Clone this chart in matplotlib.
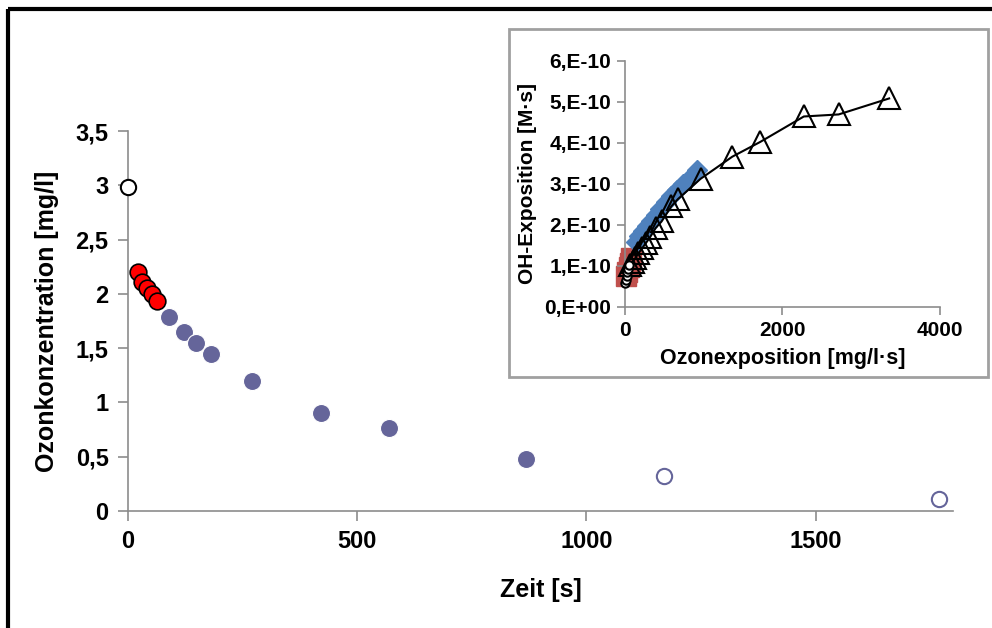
import matplotlib.pyplot as plt
from matplotlib.lines import Line2D
from matplotlib.patches import Rectangle
from matplotlib.ticker import FuncFormatter

plt.rcParams['font.family'] = ['Liberation Sans', 'DejaVu Sans']
plt.rcParams['font.weight'] = 'bold'

# Hauptdiagramm: Ozonzehrung
t_start = [0]
c_start = [2.98]
t_red = [21, 31, 41, 52, 63]
c_red = [2.20, 2.11, 2.05, 2.00, 1.93]
t_blue = [89, 122, 149, 182, 270, 421, 570, 869]
c_blue = [1.79, 1.65, 1.55, 1.45, 1.20, 0.90, 0.76, 0.48]
t_open = [1170, 1769]
c_open = [0.32, 0.11]

# Inset: OH-Exposition vs. Ozonexposition
oz_circ = [2, 10, 20, 30, 42, 55]
oh_circ = [0.57, 0.66, 0.75, 0.84, 0.93, 1.02]
oz_sq = [15, 30, 45, 60, 75]
oh_sq = [0.74, 0.85, 0.96, 1.07, 1.18]
oz_dia = [135, 180, 230, 280, 330, 390, 450, 520, 590, 660, 740, 820, 910]
oh_dia = [1.59, 1.72, 1.85, 1.98, 2.10, 2.24, 2.38, 2.55, 2.70, 2.85, 3.00, 3.15, 3.33]
oz_tri = [70, 100, 130, 170, 220, 265, 320, 390, 465, 590, 670, 960, 1363, 1718, 2271, 2713, 3354]
oh_tri = [1.02, 1.10, 1.18, 1.30, 1.43, 1.55, 1.70, 1.92, 2.08, 2.45, 2.62, 3.12, 3.66, 4.02, 4.64, 4.69, 5.08]

fig = plt.figure(figsize=(9.92, 6.28), dpi=100)

ax = fig.add_axes([0.129, 0.1863, 0.832, 0.6051])
blue = '#65659a'
ax.plot(t_start, c_start, 'o', ms=11, mfc='white', mec='black', mew=1.5, clip_on=False, zorder=3)
ax.plot(t_blue, c_blue, 'o', ms=13, mfc=blue, mec='white', mew=0.8, zorder=3)
ax.plot(t_red, c_red, 'o', ms=12, mfc='#ff0000', mec='black', mew=1.2, zorder=4)
ax.plot(t_open, c_open, 'o', ms=11, mfc='white', mec=blue, mew=1.5, zorder=3)

ax.set_xlim(0, 1800)
ax.set_ylim(0, 3.5)
ax.set_xticks([0, 500, 1000, 1500])
ax.set_yticks([0, 0.5, 1, 1.5, 2, 2.5, 3, 3.5])
ax.yaxis.set_major_formatter(FuncFormatter(lambda v, p: ('%g' % v).replace('.', ',')))
for s in ['top', 'right']:
    ax.spines[s].set_visible(False)
for s in ['left', 'bottom']:
    ax.spines[s].set_color('#8c8c8c')
    ax.spines[s].set_linewidth(1.2)
ax.tick_params(axis='both', direction='out', length=7, width=1.2, color='#8c8c8c',
               labelsize=17, pad=7)
ax.set_xlabel('Zeit [s]', fontsize=18, fontweight='bold', labelpad=18)
ax.set_ylabel('Ozonkonzentration [mg/l]', fontsize=18, fontweight='bold', labelpad=12)

# weisser Kasten fuer das Inset
box = Rectangle((0.513, 0.3997), 0.483, 0.554, transform=fig.transFigure,
                facecolor='white', edgecolor='#a0a0a0', linewidth=2, zorder=1)
fig.patches.append(box)

ins = fig.add_axes([0.630, 0.5116, 0.3176, 0.3917], zorder=2)
ins.patch.set_alpha(0)
ins.plot(oz_circ + oz_tri, oh_circ + oh_tri, '-', color='black', lw=1.5, zorder=2, clip_on=False)
ins.plot(oz_sq, oh_sq, 's', ms=14, color='#c0504d', zorder=1, clip_on=False)
ins.plot(oz_dia, oh_dia, 'D', ms=10, color='#4f81bd', zorder=1, clip_on=False)
ins.plot(oz_tri, oh_tri, '^', ms=16, mfc='none', mec='black', mew=1.5, zorder=3, clip_on=False)
ins.plot(oz_circ, oh_circ, 'o', ms=6, mfc='white', mec='black', mew=1.5, zorder=4, clip_on=False)

ins.set_xlim(0, 4000)
ins.set_ylim(0, 6)
ins.set_xticks([0, 2000, 4000])
ins.set_yticks(range(7))
ins.yaxis.set_major_formatter(FuncFormatter(lambda v, p: '0,E+00' if v == 0 else '%d,E-10' % v))
for s in ['top', 'right']:
    ins.spines[s].set_visible(False)
for s in ['left', 'bottom']:
    ins.spines[s].set_color('#8c8c8c')
    ins.spines[s].set_linewidth(1.2)
ins.tick_params(axis='both', direction='out', length=6, width=1.2, color='#8c8c8c',
                labelsize=15, pad=4)
ins.set_xlabel('Ozonexposition [mg/l·s]', fontsize=15.5, fontweight='bold', labelpad=6)
ins.set_ylabel('OH-Exposition [M·s]', fontsize=15, fontweight='bold', labelpad=5)

# schwarzer Rahmen oben und links
fig.add_artist(Line2D([0.0085, 1.0], [0.9857, 0.9857], transform=fig.transFigure,
                      color='black', lw=3, solid_capstyle='butt'))
fig.add_artist(Line2D([0.0085, 0.0085], [0.0, 0.9857], transform=fig.transFigure,
                      color='black', lw=3, solid_capstyle='butt'))

fig.savefig('out.png', dpi=100)
